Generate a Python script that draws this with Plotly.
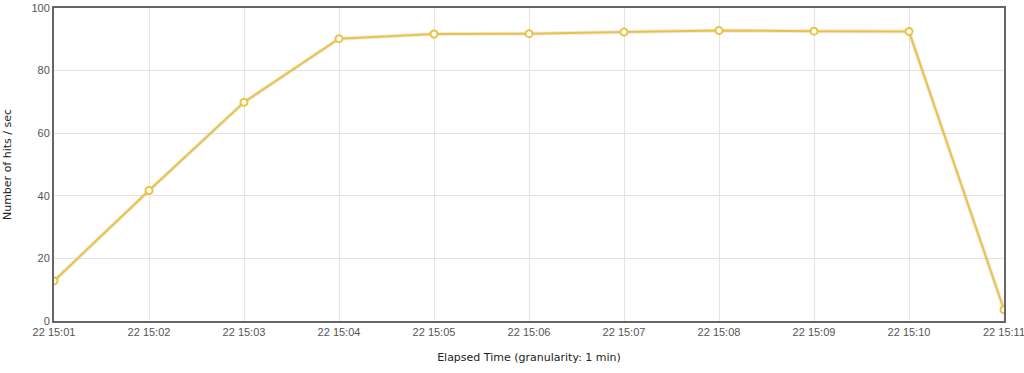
import plotly.graph_objects as go

times = ["22 15:01", "22 15:02", "22 15:03", "22 15:04", "22 15:05", "22 15:06",
         "22 15:07", "22 15:08", "22 15:09", "22 15:10", "22 15:11"]
hits = [12.8, 41.7, 69.9, 90.2, 91.7, 91.8, 92.3, 92.8, 92.6, 92.5, 3.6]
y_ticks = [0, 20, 40, 60, 80, 100]

fig = go.Figure()
fig.add_trace(go.Scatter(x=times, y=hits, mode="lines",
                         line=dict(color="rgba(0,0,0,0.08)", width=4),
                         hoverinfo="skip", showlegend=False))
fig.add_trace(go.Scatter(x=times, y=hits, mode="lines+markers",
                         line=dict(color="#EDC240", width=2),
                         marker=dict(size=7, color="white",
                                     line=dict(color="#EDC240", width=2)),
                         showlegend=False))

fig.update_layout(
    width=1024, height=373,
    margin=dict(l=54, r=20, t=8, b=52),
    plot_bgcolor="white", paper_bgcolor="white",
    font=dict(family="Liberation Sans, Arial", size=11, color="#545454"),
)
fig.update_xaxes(
    type="category", range=[0, 10], automargin=False,
    showgrid=True, gridcolor="#e3e3e3", gridwidth=1,
    showline=True, linecolor="#666666", linewidth=2, mirror=True,
    ticks="", ticklen=0,
    title=dict(text="Elapsed Time (granularity: 1 min)",
               font=dict(family="DejaVu Sans, Verdana", size=11, color="#222222"),
               standoff=16),
    zeroline=False,
)
fig.update_yaxes(
    range=[0, 100], tickvals=y_ticks, automargin=False,
    showgrid=True, gridcolor="#e3e3e3", gridwidth=1,
    showline=True, linecolor="#666666", linewidth=2, mirror=True,
    ticks="", zeroline=False,
    title=dict(text="Number of hits / sec",
               font=dict(family="DejaVu Sans, Verdana", size=11, color="#222222"),
               standoff=18),
)

fig.write_html("out.html")
